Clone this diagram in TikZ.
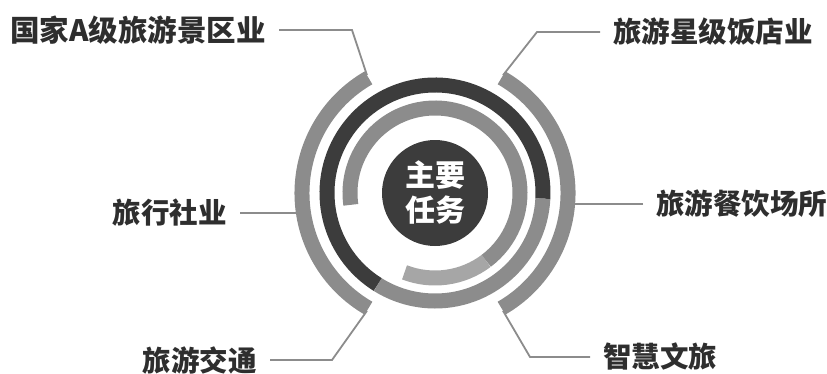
\documentclass[tikz,border=0pt]{standalone}
\usepackage{fontspec}
\newfontfamily\cjk{Noto Sans CJK SC}
\usepackage{tikz}
\definecolor{dk}{HTML}{3C3C3C}
\definecolor{md}{HTML}{8C8C8C}
\definecolor{lt}{HTML}{A6A6A6}
\definecolor{tx}{HTML}{2E2E2E}

\begin{document}
\begin{tikzpicture}
  [x=1pt,y=1pt,
   every node/.style={font=\cjk\bfseries\fontsize{28.5}{34}\selectfont,text=tx,inner sep=0pt},
   lbl/.style={inner xsep=13pt},
   ring/.style={line width=15pt},
   lead/.style={draw=md,line width=1.8pt}]
  \useasboundingbox (0,0) rectangle (827,373);
  \coordinate (c) at (435,180);
  % rings
  \draw[ring,md] ([shift={(188:85)}]c) arc (188:-53:85);
  \draw[ring,lt] ([shift={(-53:85)}]c) arc (-53:-111:85);
  \draw[ring,dk] ([shift={(238:108)}]c) arc (238:-3:108);
  \draw[ring,md] ([shift={(-3:108)}]c) arc (-3:-122:108);
  \draw[ring,md] ([shift={(120:133)}]c) arc (120:240:133);
  \draw[ring,md] ([shift={(60:133)}]c) arc (60:-60:133);
  \node[circle,fill=dk,minimum size=106pt,text=white,align=center,
        font=\cjk\bfseries\fontsize{30}{35}\selectfont] (zy) at (c) {主要\\任务};
  % labels
  \node[lbl,anchor=east,font=\cjk\bfseries\fontsize{29.5}{34}\selectfont] (jq) at (279,343) {国家A级旅游景区业};
  \node[lbl,anchor=west] (fd) at (600,341) {旅游星级饭店业};
  \node[lbl,anchor=west] (cy) at (643,169) {旅游餐饮场所};
  \node[lbl,anchor=east] (lx) at (240,160) {旅行社业};
  \node[lbl,anchor=east] (jt) at (270,13) {旅游交通};
  \node[lbl,anchor=west] (zh) at (590,16) {智慧文旅};
  % ring ends and bends
  \coordinate (e1) at ([shift={(120:136)}]c);
  \coordinate (e2) at ([shift={(60:136)}]c);
  \coordinate (e3) at (574,169);
  \coordinate (e4) at (296,160);
  \coordinate (e5) at ([shift={(240:136)}]c);
  \coordinate (e6) at ([shift={(300:136)}]c);
  \coordinate (b1) at (352,343);
  \coordinate (b2) at (537,341);
  \coordinate (b5) at (332,13);
  \coordinate (b6) at (530,16);
  \draw[lead] (jq.east) -- (b1) -- (e1);
  \draw[lead] (fd.west) -- (b2) -- (e2);
  \draw[lead] (cy.west) -- (e3);
  \draw[lead] (lx.east) -- (e4);
  \draw[lead] (jt.east) -- (b5) -- (e5);
  \draw[lead] (zh.west) -- (b6) -- (e6);
\end{tikzpicture}
\end{document}
